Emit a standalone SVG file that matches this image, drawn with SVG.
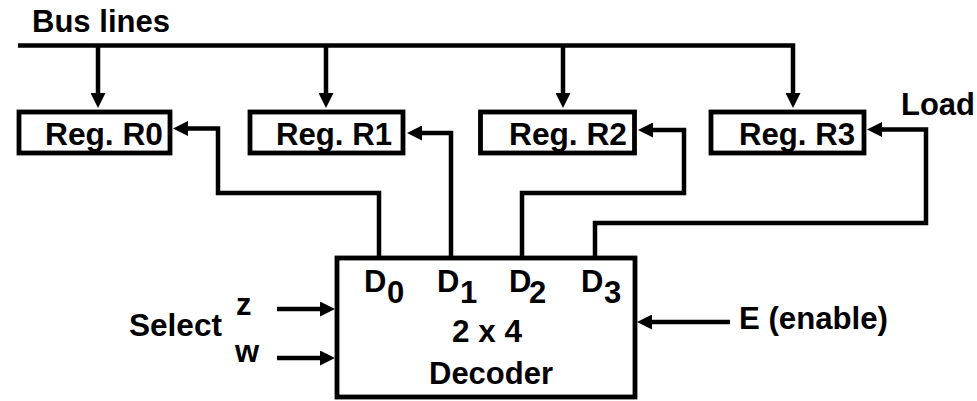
<svg xmlns="http://www.w3.org/2000/svg" width="977" height="401" viewBox="0 0 977 401">
<style>
.box{fill:#fff;stroke:#000;stroke-width:4.8}
.ln{fill:none;stroke:#000;stroke-width:4.5;marker-end:url(#arr)}
text{font-family:"Liberation Sans",Arial,sans-serif;font-weight:bold;font-size:31px;fill:#000}
</style>
<defs>
<marker id="arr" viewBox="0 0 15 15" refX="5" refY="7.5" markerWidth="15" markerHeight="15" markerUnits="userSpaceOnUse" orient="auto">
<path d="M0,0 L15,7.5 L0,15 Z" fill="#000"/>
</marker>
</defs>
<rect width="977" height="401" fill="#fff"/>
<g id="connectors">
<path class="ln" d="M18,45.5 H793 V98"/>
<path class="ln" d="M98,45.5 V98"/>
<path class="ln" d="M326,45.5 V98"/>
<path class="ln" d="M563,45.5 V98"/>
<path class="ln" d="M379,258 V193 H218 V128.5 H183"/>
<path class="ln" d="M451,258 V133 H417"/>
<path class="ln" d="M522,258 V193 H684 V130 H648"/>
<path class="ln" d="M595,258 V223 H926 V129.5 H877"/>
<path class="ln" d="M277,309 H325"/>
<path class="ln" d="M277,358 H325"/>
<path class="ln" d="M730,322 H647"/>
</g>
<g id="bus-label"><text x="32" y="32" textLength="138" lengthAdjust="spacingAndGlyphs">Bus lines</text></g>
<g id="R0"><rect class="box" x="19" y="112" width="151" height="41"/><text x="45" y="145" textLength="118" lengthAdjust="spacingAndGlyphs">Reg. R0</text></g>
<g id="R1"><rect class="box" x="250" y="112" width="153" height="41"/><text x="276" y="145" textLength="116" lengthAdjust="spacingAndGlyphs">Reg. R1</text></g>
<g id="R2"><rect class="box" x="480.5" y="112" width="154" height="41"/><text x="509" y="145" textLength="118" lengthAdjust="spacingAndGlyphs">Reg. R2</text></g>
<g id="R3"><rect class="box" x="711" y="112" width="153" height="41"/><text x="739" y="145" textLength="116" lengthAdjust="spacingAndGlyphs">Reg. R3</text></g>
<g id="load-label"><text x="901" y="115" textLength="74" lengthAdjust="spacingAndGlyphs">Load</text></g>
<g id="decoder">
<rect class="box" x="337" y="258" width="298" height="139"/>
<text x="364" y="292">D</text><text x="387" y="303">0</text>
<text x="437" y="292">D</text><text x="460" y="303">1</text>
<text x="509" y="292">D</text><text x="529" y="303">2</text>
<text x="581" y="292">D</text><text x="604" y="303">3</text>
<text x="452" y="342" textLength="70" lengthAdjust="spacingAndGlyphs">2 x 4</text>
<text x="429" y="384" textLength="124" lengthAdjust="spacingAndGlyphs">Decoder</text>
</g>
<g id="select-label">
<text x="129" y="336" textLength="93" lengthAdjust="spacingAndGlyphs">Select</text>
<text x="236" y="315">z</text>
<text x="235" y="362">w</text>
</g>
<g id="enable-label"><text x="739" y="329" textLength="149" lengthAdjust="spacingAndGlyphs">E (enable)</text></g>
</svg>
